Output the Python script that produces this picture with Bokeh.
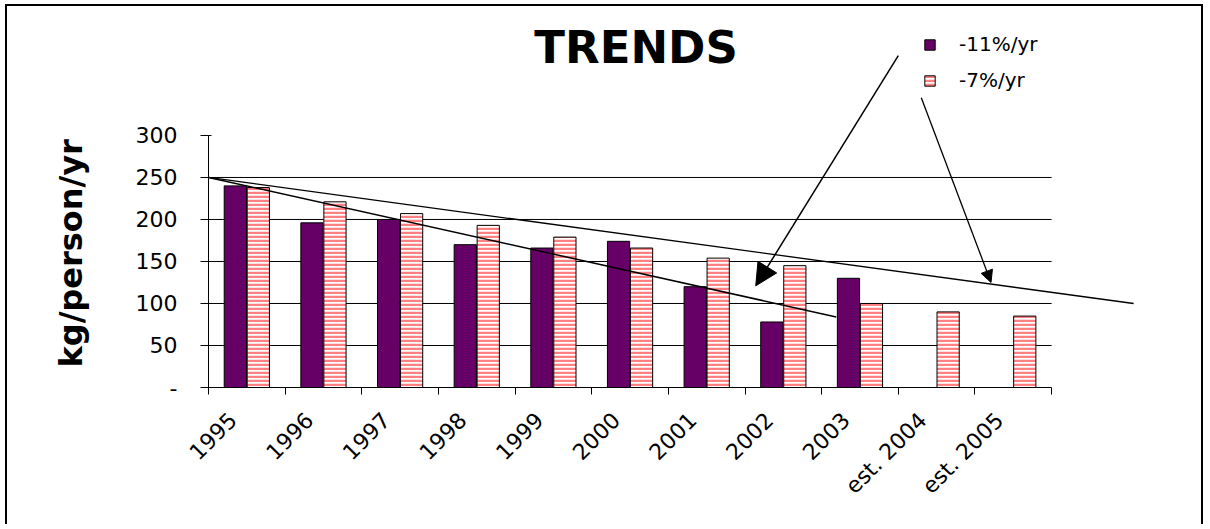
from math import pi
import numpy as np
from bokeh.plotting import figure
from bokeh.models import (Range1d, FixedTicker, Legend, LegendItem, Arrow,
                          NormalHead, ColumnDataSource, Label, Title)
from bokeh.embed import file_html
from bokeh.resources import INLINE

# ---------------- data ----------------
years = ["1995", "1996", "1997", "1998", "1999", "2000", "2001", "2002",
         "2003", "est. 2004", "est. 2005"]
series_11 = [240, 196, 200, 170, 166, 174, 120, 78, 130, np.nan, np.nan]
series_7 = [238, 221, 207, 193, 179, 166, 154, 145, 100, 90, 85]
series_names = ["-11%/yr", "-7%/yr"]
y_ticks = [0, 50, 100, 150, 200, 250, 300]
grid_values = [50, 100, 150, 200, 250]
y_tick_overrides = {0: "-"}
# hand-drawn trend lines (category units, kg/person/yr)
trend_7_x = [-0.5, 11.57]
trend_7_y = [250, 100]
trend_11_x = [-0.5, 7.69]
trend_11_y = [250, 84]
# arrows: (x_start, y_start, x_end, y_end)
arrow_11 = (8.5, 395, 6.64, 121)
arrow_7 = (8.80, 345, 9.71, 125)

# ---------------- figure ----------------
n = len(years)
p = figure(width=1198, height=520, output_backend="svg", toolbar_location=None,
           x_range=Range1d(-0.5, 11.66), y_range=Range1d(0, 444),
           min_border_left=200, min_border_right=65,
           min_border_top=8, min_border_bottom=139)
p.styles = {"border-top": "2px solid black", "border-left": "2px solid black",
            "border-right": "2px solid black",
            "margin-left": "5px", "margin-top": "4px"}
p.outline_line_color = None
p.xgrid.visible = False
p.ygrid.visible = False

title = Label(x=(n - 1) / 2, y=405, text="TRENDS", text_font="DejaVu Sans",
              text_font_style="bold", text_font_size="45px", text_color="black",
              text_align="center", text_baseline="middle", x_offset=6)
p.add_layout(title)

cx = np.arange(n)
off = 0.15
bw = 0.29

# gridlines ending at the last category boundary
p.multi_line(xs=[[-0.5, n - 0.5] for _ in grid_values],
             ys=[[v, v] for v in grid_values], line_color="black", line_width=1)

src = ColumnDataSource(dict(x1=cx - off, x2=cx + off, a=series_11, b=series_7))
r1 = p.vbar(x="x1", top="a", bottom=0, width=bw, source=src,
            fill_color="#660066", line_color="black", line_width=1)
r2 = p.vbar(x="x2", top="b", bottom=0, width=bw, source=src,
            fill_color="white", hatch_pattern="horizontal_line",
            hatch_color="#FF8080", hatch_scale=4, hatch_weight=2.5,
            line_color="black", line_width=1)

p.line(x=trend_7_x, y=trend_7_y, line_color="black", line_width=1.3)
p.line(x=trend_11_x, y=trend_11_y, line_color="black", line_width=1.5)

p.add_layout(Arrow(end=NormalHead(size=22, fill_color="black", line_color="black"),
                   x_start=arrow_11[0], y_start=arrow_11[1],
                   x_end=arrow_11[2], y_end=arrow_11[3], line_width=1.5))
p.add_layout(Arrow(end=NormalHead(size=12, fill_color="black", line_color="black"),
                   x_start=arrow_7[0], y_start=arrow_7[1],
                   x_end=arrow_7[2], y_end=arrow_7[3], line_width=1.3))

# x axis: labels near category centres, ticks at boundaries
label_shift = 0.18
xa = p.xaxis[0]
label_pos = [i - label_shift for i in range(n)]
xa.ticker = FixedTicker(ticks=label_pos,
                        minor_ticks=[i - 0.5 for i in range(n + 1)])
xa.major_label_overrides = {pos: y for pos, y in zip(label_pos, years)}
xa.bounds = (-0.5, n - 0.5)
xa.axis_line_color = "black"
xa.major_tick_in = 0
xa.major_tick_out = 0
xa.minor_tick_in = 0
xa.minor_tick_out = 7
xa.minor_tick_line_color = "black"
xa.major_label_orientation = pi / 4
xa.major_label_text_font = "DejaVu Sans"
xa.major_label_text_font_size = "22px"
xa.major_label_text_color = "black"
xa.major_label_standoff = 22

ya = p.yaxis[0]
ya.ticker = FixedTicker(ticks=y_ticks)
ya.bounds = (0, 300)
ya.major_label_overrides = y_tick_overrides
ya.axis_line_color = "black"
ya.major_tick_in = 3
ya.major_tick_out = 8
ya.minor_tick_line_color = None
ya.major_tick_line_color = "black"
ya.major_label_text_font = "DejaVu Sans"
ya.major_label_text_font_size = "22px"
ya.major_label_text_color = "black"
ya.major_label_standoff = 23

ylab = Title(text="kg/person/yr", align="left", offset=20, standoff=85,
             text_font="DejaVu Sans", text_font_style="bold",
             text_font_size="32px", text_color="black")
p.add_layout(ylab, "left")

legend = Legend(items=[LegendItem(label=series_names[0], renderers=[r1]),
                       LegendItem(label=series_names[1], renderers=[r2])],
                location=(715, 295), orientation="vertical",
                border_line_color=None, background_fill_alpha=0,
                glyph_width=13, glyph_height=13, label_standoff=23,
                spacing=12, label_height=20, padding=0, margin=0,
                label_text_font="DejaVu Sans", label_text_font_size="20px",
                label_text_color="black")
p.add_layout(legend)

open("out.html", "w").write(file_html(p, INLINE))
